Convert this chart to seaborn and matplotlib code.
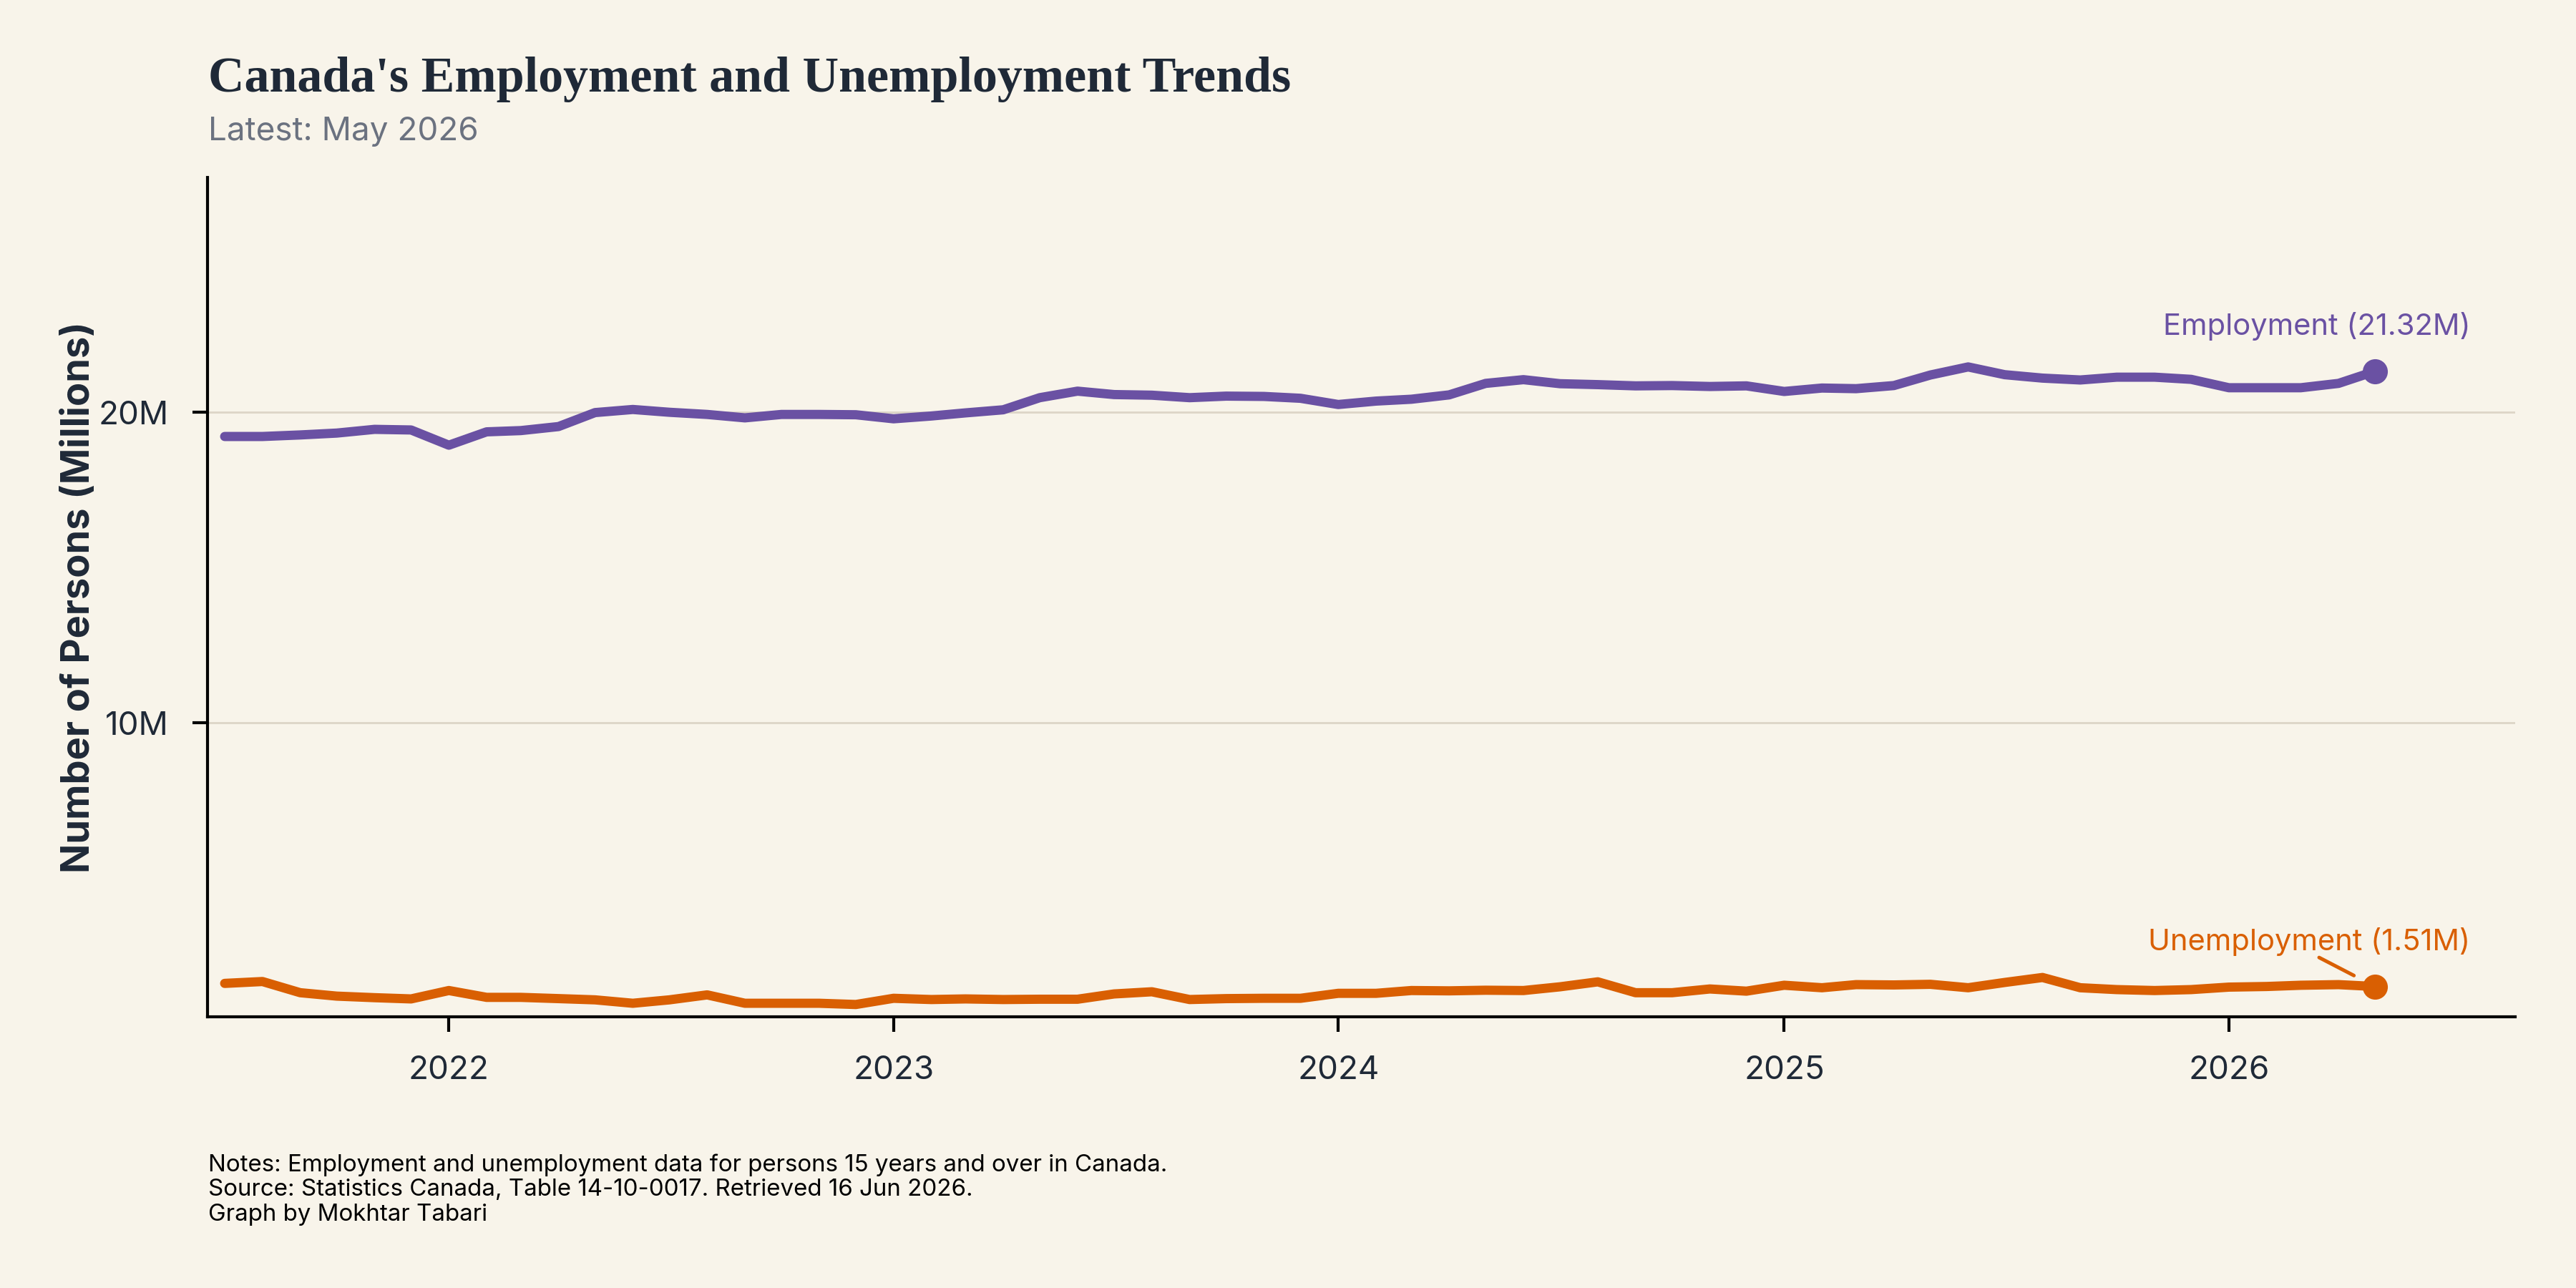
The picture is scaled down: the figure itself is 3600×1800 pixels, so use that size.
import pandas as pd
import numpy as np
import matplotlib
matplotlib.use("Agg")
import matplotlib.pyplot as plt
import matplotlib.dates as mdates
from matplotlib.ticker import FuncFormatter
import seaborn as sns

# --- Data (millions of persons, monthly, Jul 2021 - May 2026) ---
start_month = "2021-07-01"
employment = [19.22, 19.22, 19.27, 19.33, 19.45, 19.43, 18.94, 19.37, 19.41, 19.54,
              19.99, 20.09, 20.00, 19.93, 19.82, 19.93, 19.93, 19.92, 19.79, 19.88,
              19.98, 20.08, 20.47, 20.68, 20.57, 20.55, 20.47, 20.52, 20.51, 20.45,
              20.25, 20.36, 20.42, 20.56, 20.93, 21.05, 20.92, 20.89, 20.85, 20.86,
              20.83, 20.85, 20.67, 20.78, 20.76, 20.86, 21.20, 21.46, 21.21, 21.10,
              21.04, 21.13, 21.13, 21.06, 20.79, 20.79, 20.79, 20.93, 21.32]
unemployment = [1.61, 1.67, 1.31, 1.20, 1.15, 1.11, 1.38, 1.16, 1.16, 1.12,
                1.08, 0.97, 1.08, 1.24, 0.97, 0.97, 0.97, 0.93, 1.13, 1.09,
                1.11, 1.09, 1.10, 1.10, 1.27, 1.34, 1.09, 1.12, 1.13, 1.13,
                1.29, 1.29, 1.38, 1.37, 1.39, 1.38, 1.50, 1.66, 1.31, 1.31,
                1.43, 1.36, 1.55, 1.47, 1.57, 1.56, 1.58, 1.47, 1.64, 1.80,
                1.47, 1.41, 1.38, 1.41, 1.49, 1.51, 1.55, 1.57, 1.51]
series_names = ["Employment", "Unemployment"]
series_colors = ["#6A51A3", "#D95F02"]

dates = pd.date_range(start_month, periods=len(employment), freq="MS")
df = pd.DataFrame({"date": dates, "Employment": employment, "Unemployment": unemployment})
df_long = df.melt(id_vars="date", var_name="series", value_name="value")

# --- Style ---
bg = "#F8F4EA"
ink = "#1F2937"
sns.set_theme(style="white")
plt.rcParams["font.family"] = ["Inter", "DejaVu Sans"]
plt.rcParams["figure.facecolor"] = bg
plt.rcParams["axes.facecolor"] = bg

fig = plt.figure(figsize=(12, 6), dpi=300)
ax = fig.add_axes([0.0806, 0.2107, 0.8958, 0.6515])

sns.lineplot(data=df_long, x="date", y="value", hue="series",
             palette=dict(zip(series_names, series_colors)),
             linewidth=3.1, legend=False, ax=ax)

# end markers + labels
for name, color in zip(series_names, series_colors):
    last_x = df["date"].iloc[-1]
    last_y = df[name].iloc[-1]
    ax.scatter([last_x], [last_y], s=55, color=color, zorder=5)
    arrow = None
    if name == "Unemployment":
        arrow = dict(arrowstyle="-", color=color, lw=1.2, relpos=(0.53, -0.05),
                     patchA=None, shrinkA=0, shrinkB=8)
    ax.annotate(f"{name} ({last_y:.2f}M)", xy=(last_x, last_y),
                xytext=(32, 15), textcoords="offset points",
                ha="right", va="center", fontsize=10, color=color,
                arrowprops=arrow)

# axes
ax.set_ylim(0.54, 27.56)
ax.set_yticks([10, 20])
ax.yaxis.set_major_formatter(FuncFormatter(lambda v, p: f"{v:.0f}M"))
ax.set_xlim(pd.Timestamp("2021-06-17"), pd.Timestamp("2026-08-24"))
ax.xaxis.set_major_locator(mdates.YearLocator())
ax.xaxis.set_major_formatter(mdates.DateFormatter("%Y"))
ax.set_xlabel("")
ax.set_ylabel("Number of Persons (Millions)", fontsize=13, fontweight="bold", color=ink, labelpad=0.5)
ax.grid(axis="y", color="#DDD6C8", linewidth=0.7)
ax.set_axisbelow(True)
sns.despine(ax=ax)
for s in ["left", "bottom"]:
    ax.spines[s].set_color("black")
    ax.spines[s].set_linewidth(1)
ax.tick_params(axis="both", length=5, width=1, color="black", labelsize=11,
               labelcolor=ink, pad=8, left=True, bottom=True)

# titles and notes
fig.text(0.0808, 0.929, "Canada's Employment and Unemployment Trends",
         fontsize=16.8, fontweight="bold", color=ink, family=["Liberation Serif"])
fig.text(0.0808, 0.891, "Latest: May 2026", fontsize=11, color="#6B7280")
fig.text(0.0808, 0.1044,
         "Notes: Employment and unemployment data for persons 15 years and over in Canada.\n"
         "Source: Statistics Canada, Table 14-10-0017. Retrieved 16 Jun 2026.\n"
         "Graph by Mokhtar Tabari",
         fontsize=7.95, color="black", va="top", linespacing=1.15)

plt.savefig("out.png", dpi=300, facecolor=bg)
